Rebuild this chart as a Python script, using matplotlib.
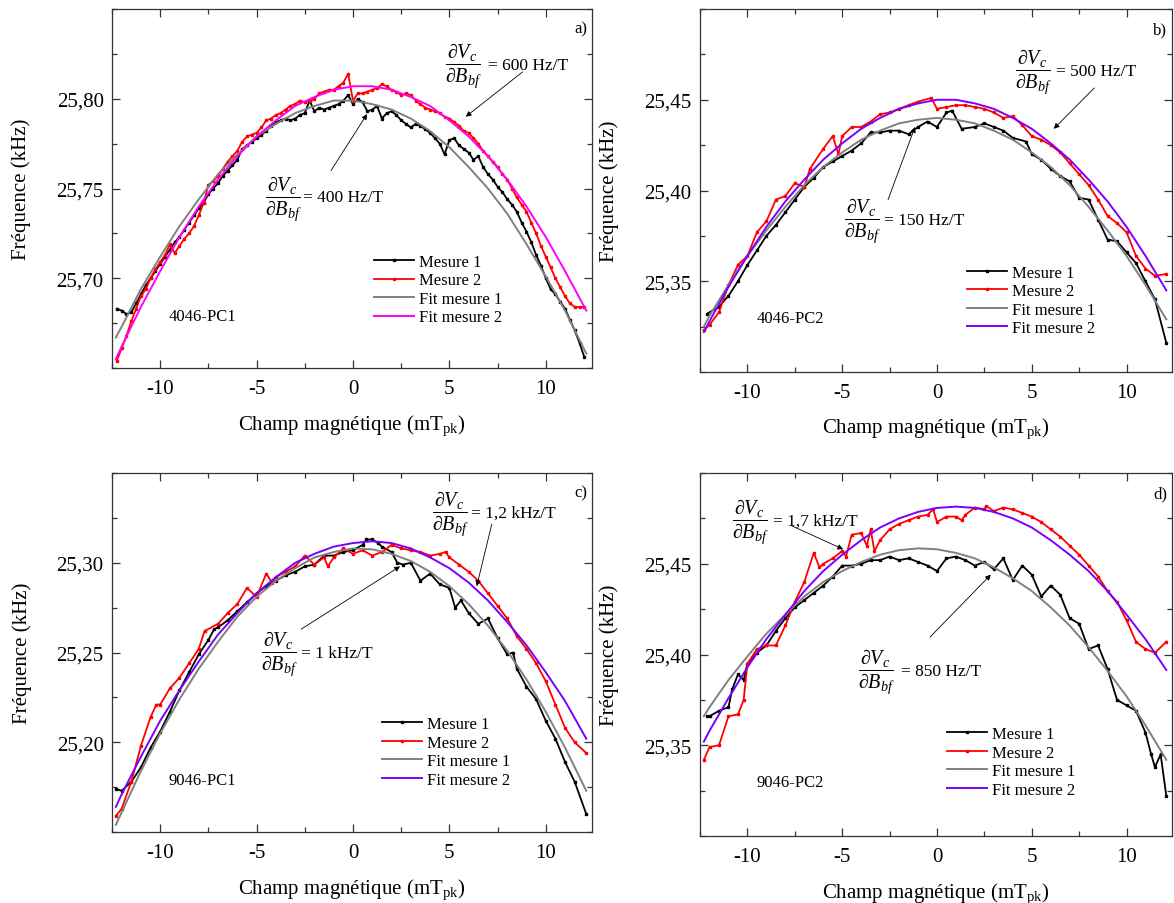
"""Fréquence de résonance en fonction du champ magnétique — 4 capteurs."""

import matplotlib
matplotlib.use("Agg")
import matplotlib.pyplot as plt
import numpy as np
from matplotlib.ticker import MultipleLocator

plt.rcParams.update({
    "font.family": "serif",
    "font.serif": ["Liberation Serif", "DejaVu Serif"],
    "mathtext.fontset": "custom",
    "mathtext.rm": "Liberation Serif",
    "mathtext.it": "Liberation Serif:italic",
    "font.size": 12,
    "axes.linewidth": 0.9,
    "axes.edgecolor": "#333333",
})

GREY = "#808080"
MAGENTA = "#FF00FF"
VIOLET = "#7A00FF"

# points du fit (communs aux quatre panneaux)
FIT_X = [-12.3, -12, -11, -10, -9, -8, -7, -6, -5, -4, -3, -2, -1,
         0, 1, 2, 3, 4, 5, 6, 7, 8, 9, 10, 11, 12.1]

# ---------------- a) 4046-PC1 ----------------
A_X_START, A_X_STOP, A_X_STEP = -12.25, 12.0, 0.25
A_M1 = [25.683, 25.682, 25.680, 25.681, 25.686, 25.691, 25.696, 25.700, 25.704, 25.708,
        25.712, 25.716, 25.720, 25.723, 25.727, 25.731, 25.735, 25.739, 25.742, 25.747,
        25.750, 25.753, 25.757, 25.760, 25.763, 25.766, 25.772, 25.774, 25.776, 25.778,
        25.780, 25.782, 25.785, 25.787, 25.788, 25.789, 25.788, 25.789, 25.791, 25.792,
        25.799, 25.793, 25.795, 25.794, 25.795, 25.796, 25.797, 25.799, 25.802, 25.797,
        25.800, 25.798, 25.793, 25.794, 25.796, 25.789, 25.792, 25.793, 25.791, 25.788,
        25.786, 25.784, 25.786, 25.785, 25.783, 25.781, 25.778, 25.775, 25.769, 25.777,
        25.778, 25.774, 25.772, 25.770, 25.766, 25.768, 25.762, 25.758, 25.755, 25.751,
        25.748, 25.744, 25.741, 25.737, 25.731, 25.726, 25.720, 25.713, 25.707, 25.700,
        25.694, 25.691, 25.687, 25.683, 25.677, 25.671, 25.664, 25.656]
A_M2 = [25.654, 25.661, 25.668, 25.676, 25.683, 25.690, 25.694, 25.700, 25.705, 25.709,
        25.713, 25.719, 25.714, 25.718, 25.722, 25.725, 25.729, 25.735, 25.742, 25.752,
        25.754, 25.757, 25.761, 25.765, 25.768, 25.771, 25.776, 25.779, 25.780, 25.781,
        25.784, 25.788, 25.789, 25.791, 25.792, 25.794, 25.796, 25.797, 25.799, 25.798,
        25.799, 25.800, 25.803, 25.804, 25.805, 25.805, 25.807, 25.809, 25.814, 25.799,
        25.803, 25.803, 25.804, 25.805, 25.806, 25.808, 25.807, 25.805, 25.804, 25.802,
        25.803, 25.802, 25.799, 25.797, 25.795, 25.794, 25.793, 25.792, 25.790, 25.789,
        25.787, 25.785, 25.782, 25.781, 25.778, 25.775, 25.771, 25.768, 25.765, 25.762,
        25.758, 25.755, 25.750, 25.745, 25.741, 25.737, 25.731, 25.725, 25.718, 25.712,
        25.706, 25.700, 25.695, 25.690, 25.686, 25.684, 25.684, 25.684]
A_FIT1 = [25.667, 25.673, 25.694, 25.712, 25.729, 25.744, 25.758, 25.769, 25.779, 25.786,
          25.792, 25.796, 25.799, 25.799, 25.797, 25.794, 25.789, 25.782, 25.773, 25.762,
          25.750, 25.736, 25.719, 25.701, 25.682, 25.658]
A_FIT2 = [25.655, 25.662, 25.684, 25.704, 25.723, 25.740, 25.755, 25.768, 25.779, 25.788,
          25.796, 25.801, 25.805, 25.807, 25.807, 25.805, 25.801, 25.796, 25.788, 25.779,
          25.768, 25.755, 25.740, 25.723, 25.704, 25.682]

# ---------------- b) 4046-PC2 ----------------
B_M1_X = [-12.14, -11.5, -11, -10.5, -10, -9.5, -9, -8.5, -8, -7.5, -7, -6.5, -6, -5.5,
          -5, -4.5, -4, -3.5, -3, -2.5, -2, -1.5, -1, -0.5, 0, 0.5, 0.8, 1.3, 2, 2.5,
          3, 3.5, 4, 4.7, 5, 5.5, 6, 6.5, 7, 7.5, 8, 8.5, 9, 9.5, 10, 10.5, 11, 11.5, 12.1]
B_M1 = [25.332, 25.336, 25.342, 25.350, 25.359, 25.367, 25.375, 25.381, 25.388, 25.395,
        25.402, 25.407, 25.413, 25.416, 25.419, 25.422, 25.426, 25.432, 25.432, 25.433,
        25.433, 25.431, 25.435, 25.438, 25.435, 25.443, 25.444, 25.434, 25.435, 25.437,
        25.435, 25.433, 25.429, 25.427, 25.420, 25.417, 25.412, 25.408, 25.405, 25.396,
        25.395, 25.384, 25.373, 25.372, 25.366, 25.360, 25.350, 25.340, 25.316]
B_M2_X = [-12.3, -12, -11.5, -11, -10.5, -10, -9.5, -9, -8.5, -8, -7.5, -7, -6.7, -6,
          -5.5, -5.2, -5, -4.5, -4, -3.5, -3, -2.5, -2, -1.5, -1, -0.3, 0, 0.5, 1, 1.5,
          2, 2.5, 3, 3.5, 4, 4.5, 5, 5.5, 6, 6.5, 7, 7.5, 8, 8.5, 9, 9.5, 10, 10.5, 11,
          11.5, 12.1]
B_M2 = [25.323, 25.326, 25.333, 25.348, 25.359, 25.364, 25.377, 25.383, 25.395, 25.397,
        25.404, 25.402, 25.412, 25.423, 25.430, 25.420, 25.430, 25.435, 25.435, 25.438,
        25.442, 25.443, 25.445, 25.447, 25.449, 25.451, 25.445, 25.446, 25.447, 25.447,
        25.446, 25.445, 25.443, 25.440, 25.441, 25.436, 25.430, 25.428, 25.425, 25.421,
        25.415, 25.409, 25.403, 25.395, 25.386, 25.382, 25.377, 25.364, 25.357, 25.353,
        25.354]
B_FIT1 = [25.325, 25.331, 25.348, 25.364, 25.378, 25.391, 25.403, 25.413, 25.421, 25.428,
          25.433, 25.437, 25.439, 25.440, 25.439, 25.437, 25.433, 25.428, 25.421, 25.413,
          25.403, 25.391, 25.378, 25.364, 25.348, 25.329]
B_FIT2 = [25.322, 25.328, 25.347, 25.364, 25.380, 25.394, 25.406, 25.417, 25.426, 25.434,
          25.440, 25.445, 25.448, 25.450, 25.450, 25.448, 25.445, 25.440, 25.434, 25.426,
          25.417, 25.406, 25.394, 25.380, 25.364, 25.345]

# ---------------- c) 9046-PC1 ----------------
C_M1_X = [-12.3, -12, -11.5, -11, -10.5, -10, -9.5, -9, -8.5, -8, -7.5, -7.2, -7, -6.5,
          -6, -5.5, -5, -4.5, -4, -3.5, -3, -2.5, -2, -1.5, -1, -0.5, 0, 0.5, 0.7, 1.0,
          1.3, 1.5, 2, 2.3, 2.6, 3, 3.5, 4, 4.5, 5, 5.3, 5.6, 6, 6.5, 7, 7.5, 8, 8.3,
          8.5, 9, 9.5, 10, 10.5, 11, 11.5, 12.1]
C_M1 = [25.174, 25.173, 25.178, 25.186, 25.197, 25.206, 25.217, 25.229, 25.239, 25.249,
        25.257, 25.263, 25.264, 25.268, 25.273, 25.278, 25.283, 25.287, 25.290, 25.293,
        25.295, 25.298, 25.299, 25.304, 25.304, 25.306, 25.307, 25.310, 25.313, 25.313,
        25.311, 25.309, 25.306, 25.300, 25.299, 25.300, 25.290, 25.294, 25.288, 25.286,
        25.275, 25.279, 25.272, 25.266, 25.269, 25.258, 25.249, 25.250, 25.241, 25.231,
        25.224, 25.212, 25.202, 25.189, 25.178, 25.160]
C_M2_X = [-12.3, -12, -11.5, -11, -10.5, -10.2, -10, -9.5, -9, -8.5, -8, -7.7, -7, -6.5,
          -6, -5.5, -5, -4.5, -4.2, -4, -3.5, -3, -2.5, -2, -1.5, -1.3, -1, -0.5, 0, 0.5,
          1, 1.5, 2, 2.5, 3, 3.5, 4, 4.5, 4.8, 5, 5.5, 6, 6.5, 7, 7.5, 8, 8.5, 9, 9.5,
          10, 10.5, 11, 11.5, 12.1]
C_M2 = [25.159, 25.163, 25.178, 25.198, 25.214, 25.221, 25.221, 25.230, 25.236, 25.244,
        25.252, 25.262, 25.266, 25.272, 25.277, 25.286, 25.281, 25.294, 25.289, 25.292,
        25.295, 25.298, 25.304, 25.299, 25.303, 25.298, 25.303, 25.308, 25.305, 25.307,
        25.304, 25.306, 25.310, 25.308, 25.307, 25.306, 25.304, 25.305, 25.306, 25.303,
        25.299, 25.295, 25.290, 25.283, 25.276, 25.269, 25.259, 25.252, 25.244, 25.234,
        25.221, 25.208, 25.200, 25.194]
C_FIT1 = [25.154, 25.161, 25.184, 25.205, 25.224, 25.241, 25.256, 25.270, 25.281, 25.290,
          25.297, 25.303, 25.306, 25.308, 25.3075, 25.305, 25.301, 25.295, 25.287, 25.277,
          25.265, 25.251, 25.235, 25.217, 25.197, 25.173]
C_FIT2 = [25.164, 25.171, 25.192, 25.212, 25.229, 25.245, 25.260, 25.272, 25.283, 25.292,
          25.300, 25.305, 25.309, 25.311, 25.312, 25.311, 25.308, 25.303, 25.297, 25.289,
          25.279, 25.267, 25.254, 25.239, 25.223, 25.202]

# ---------------- d) 9046-PC2 ----------------
D_M1_X = [-12.14, -12, -11.5, -11, -10.8, -10.5, -10.2, -10, -9.5, -9, -8.5, -8, -7.5,
          -7, -6.5, -6, -5.5, -5, -4.5, -4, -3.5, -3, -2.5, -2, -1.5, -1, -0.5, 0, 0.5,
          1, 1.5, 2, 2.5, 3, 3.5, 4, 4.5, 5, 5.5, 6, 6.5, 7, 7.5, 8, 8.5, 9, 9.5, 10,
          10.5, 11, 11.3, 11.5, 11.8, 12.1]
D_M1 = [25.366, 25.366, 25.369, 25.371, 25.381, 25.389, 25.386, 25.395, 25.401, 25.405,
        25.413, 25.420, 25.426, 25.430, 25.434, 25.438, 25.443, 25.449, 25.449, 25.450,
        25.452, 25.452, 25.454, 25.452, 25.453, 25.451, 25.449, 25.446, 25.453, 25.454,
        25.452, 25.449, 25.451, 25.447, 25.453, 25.441, 25.449, 25.444, 25.432, 25.438,
        25.433, 25.420, 25.417, 25.403, 25.405, 25.392, 25.375, 25.372, 25.369, 25.357,
        25.345, 25.338, 25.345, 25.322]
D_M2_X = [-12.3, -12, -11.5, -11, -10.5, -10.2, -10, -9.5, -9, -8.5, -8, -7.5, -7, -6.5,
          -6.2, -6, -5.5, -5, -4.8, -4.5, -4, -3.7, -3.5, -3.3, -3, -2.5, -2, -1.5, -1,
          -0.5, -0.2, 0, 0.5, 1, 1.3, 1.5, 2, 2.5, 2.6, 3, 3.5, 4, 4.5, 5, 5.5, 6, 6.5,
          7, 7.5, 8, 8.5, 9, 9.5, 10, 10.5, 11, 11.5, 12.1]
D_M2 = [25.342, 25.349, 25.350, 25.366, 25.367, 25.375, 25.395, 25.403, 25.405, 25.405,
        25.416, 25.429, 25.440, 25.456, 25.448, 25.450, 25.453, 25.457, 25.454, 25.466,
        25.467, 25.460, 25.469, 25.457, 25.463, 25.469, 25.472, 25.474, 25.476, 25.477,
        25.480, 25.473, 25.476, 25.476, 25.474, 25.477, 25.481, 25.480, 25.482, 25.479,
        25.481, 25.480, 25.478, 25.476, 25.473, 25.469, 25.465, 25.460, 25.455, 25.449,
        25.443, 25.435, 25.429, 25.419, 25.407, 25.403, 25.401, 25.407]
D_FIT1 = [25.366, 25.371, 25.386, 25.399, 25.4115, 25.422, 25.432, 25.440, 25.446, 25.451,
          25.455, 25.4575, 25.4585, 25.458, 25.456, 25.453, 25.448, 25.442, 25.435, 25.426,
          25.416, 25.404, 25.391, 25.377, 25.361, 25.342]
D_FIT2 = [25.352, 25.358, 25.376, 25.393, 25.4085, 25.422, 25.435, 25.446, 25.455, 25.463,
          25.470, 25.475, 25.4786, 25.4808, 25.4815, 25.4808, 25.4786, 25.475, 25.470,
          25.463, 25.455, 25.446, 25.435, 25.422, 25.4085, 25.3915]

LABELS = ["Mesure 1", "Mesure 2", "Fit mesure 1", "Fit mesure 2"]
XLABEL = r"Champ magnétique (mT$_{\mathrm{pk}}$)"
YLABEL = "Fréquence (kHz)"
FRAC = r"$\dfrac{\partial V_c}{\partial B_{bf}}$"


def draw_panel(ax, m1, m2, fit1, fit2, fit2_color, ylo, yticks, cfg):
    ax.plot(m1[0], m1[1], color="black", lw=1.3, marker="s", ms=2.0, zorder=3)
    ax.plot(m2[0], m2[1], color="red", lw=1.3, marker="s", ms=2.0, zorder=3)
    ax.plot(FIT_X, fit1, color=GREY, lw=1.4, zorder=4)
    ax.plot(FIT_X, fit2, color=fit2_color, lw=1.4, zorder=4)

    ax.set_xlim(-12.5, 12.4)
    ax.set_ylim(ylo, ylo + 0.2)
    ax.set_xticks([-10, -5, 0, 5, 10])
    ax.set_xticklabels(["-10", "-5", "0", "5", "10"])
    ax.xaxis.set_minor_locator(MultipleLocator(2.5))
    ax.set_yticks(yticks)
    ax.set_yticklabels([f"{v:.2f}".replace(".", ",") for v in yticks])
    ax.yaxis.set_minor_locator(MultipleLocator(0.025))
    ax.tick_params(which="both", direction="in", top=True, right=True,
                   labelsize=15, color="#333333")
    ax.tick_params(which="major", length=5.5, width=0.9)
    ax.tick_params(which="minor", length=3.5, width=0.9)
    ax.tick_params(axis="x", pad=8)
    ax.tick_params(axis="y", pad=6)
    ax.set_xlabel(XLABEL, fontsize=15, labelpad=10)
    ax.set_ylabel(YLABEL, fontsize=15, labelpad=18)

    ax.legend(LABELS, loc="upper left", bbox_to_anchor=cfg["legend"],
              frameon=False, fontsize=12, handlelength=2.4, handletextpad=0.3,
              labelspacing=0.15, borderaxespad=0, borderpad=0)

    ax.text(*cfg["sample_pos"], cfg["sample"], transform=ax.transAxes,
            ha="left", va="center", fontsize=12)
    ax.text(0.99, 0.945, cfg["letter"], transform=ax.transAxes,
            ha="right", va="center", fontsize=12)

    for value, text_xy, gap, tail, head in cfg["notes"]:
        ax.annotate(FRAC, xy=text_xy, ha="left", va="center", fontsize=14.5)
        ax.annotate("= " + value, xy=text_xy, xytext=(gap, 0),
                    textcoords="offset points", ha="left", va="center",
                    fontsize=12.5)
        ax.annotate("", xy=head, xytext=tail,
                    arrowprops=dict(arrowstyle="-|>", color="black", lw=0.6,
                                    mutation_scale=8, shrinkA=0, shrinkB=0))


def main():
    fig = plt.figure(figsize=(11.74, 9.04), dpi=100)
    ax_a = fig.add_axes([0.0954, 0.5918, 0.4089, 0.3971])
    ax_b = fig.add_axes([0.5963, 0.5874, 0.4020, 0.4015])
    ax_c = fig.add_axes([0.0954, 0.0785, 0.4089, 0.3971])
    ax_d = fig.add_axes([0.5963, 0.0741, 0.4020, 0.4015])

    a_x = np.arange(A_X_START, A_X_STOP + 1e-9, A_X_STEP)

    draw_panel(ax_a, (a_x, A_M1), (a_x, A_M2), A_FIT1, A_FIT2, MAGENTA,
               25.65, [25.70, 25.75, 25.80], {
                   "legend": (0.546, 0.318),
                   "sample": "4046-PC1", "sample_pos": (0.117, 0.145),
                   "letter": "a)",
                   "notes": [
                       ("600 Hz/T", (4.77, 25.819), 31, (8.8, 25.815), (5.85, 25.790)),
                       ("400 Hz/T", (-4.56, 25.745), 27, (-1.14, 25.760), (0.73, 25.7915)),
                   ],
               })
    draw_panel(ax_b, (B_M1_X, B_M1), (B_M2_X, B_M2), B_FIT1, B_FIT2, VIOLET,
               25.30, [25.35, 25.40, 25.45], {
                   "legend": (0.566, 0.296),
                   "sample": "4046-PC2", "sample_pos": (0.119, 0.149),
                   "letter": "b)",
                   "notes": [
                       ("500 Hz/T", (4.1, 25.466), 30, (8.3, 25.4565), (6.16, 25.434)),
                       ("150 Hz/T", (-4.9, 25.384), 29, (-2.58, 25.395), (-1.16, 25.435)),
                   ],
               })
    draw_panel(ax_c, (C_M1_X, C_M1), (C_M2_X, C_M2), C_FIT1, C_FIT2, VIOLET,
               25.15, [25.20, 25.25, 25.30], {
                   "legend": (0.5625, 0.323),
                   "sample": "9046-PC1", "sample_pos": (0.117, 0.145),
                   "letter": "c)",
                   "notes": [
                       ("1,2 kHz/T", (4.1, 25.328), 28, (7.2, 25.3216), (6.42, 25.287)),
                       ("1 kHz/T", (-4.77, 25.250), 29, (-2.69, 25.263), (2.44, 25.298)),
                   ],
               })
    draw_panel(ax_d, (D_M1_X, D_M1), (D_M2_X, D_M2), D_FIT1, D_FIT2, VIOLET,
               25.30, [25.35, 25.40, 25.45], {
                   "legend": (0.523, 0.303),
                   "sample": "9046-PC2", "sample_pos": (0.119, 0.149),
                   "letter": "d)",
                   "notes": [
                       ("1,7 kHz/T", (-10.84, 25.4736), 30, (-7.74, 25.4713), (-4.95, 25.458)),
                       ("850 Hz/T", (-4.16, 25.391), 31, (-0.37, 25.4096), (2.84, 25.444)),
                   ],
               })

    fig.savefig("out.png", dpi=100, facecolor="white")
    plt.close(fig)


if __name__ == "__main__":
    main()
